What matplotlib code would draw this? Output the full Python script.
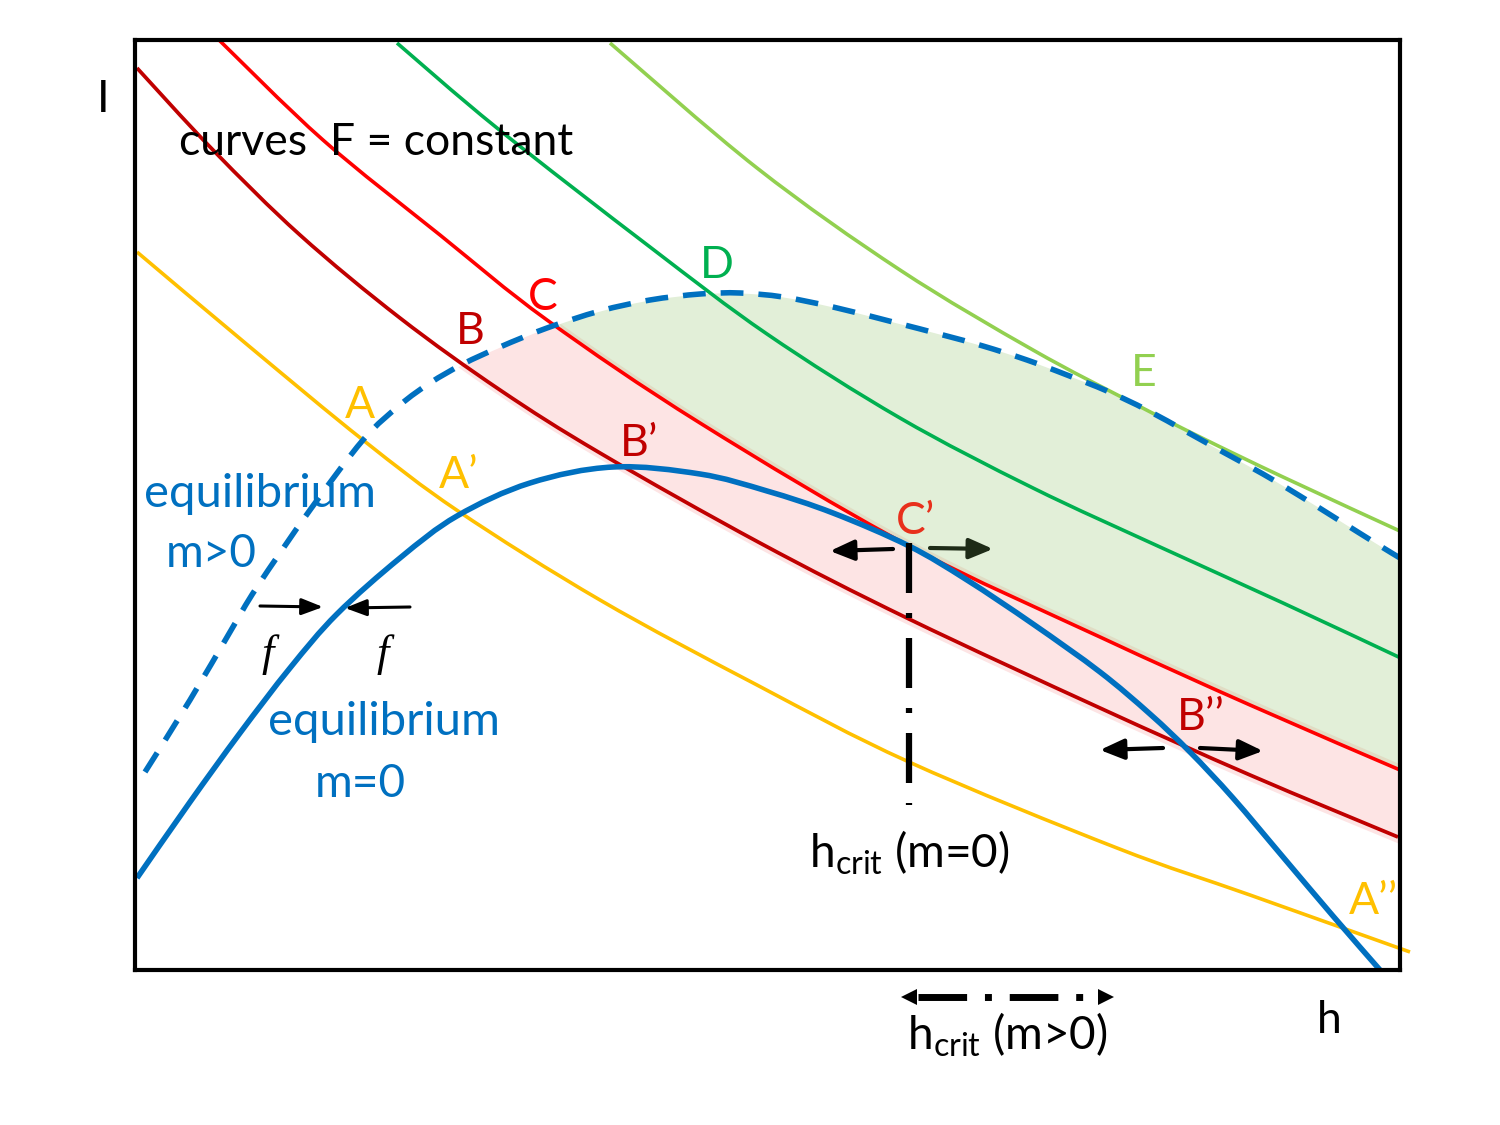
import numpy as np
import matplotlib
matplotlib.use('Agg')
import matplotlib.pyplot as plt
from matplotlib.path import Path
from matplotlib.patches import PathPatch

plt.rcParams['font.family'] = ['Lato', 'DejaVu Sans']
plt.rcParams['mathtext.fontset'] = 'custom'
plt.rcParams['mathtext.rm'] = 'Lato'
plt.rcParams['mathtext.it'] = 'Lato:italic'

# ---------------- data (h to the right, I downward scale) -------------
curve_A_h = [137, 250, 363, 458, 600, 757, 909, 1117, 1250, 1410]
curve_A_I = [252, 347, 440, 511, 600, 685, 762, 848, 895, 952]

curve_B_h = [137, 213, 300, 400, 500, 600, 760, 909, 1100, 1250, 1398]
curve_B_I = [68, 150, 235, 318, 390, 453, 543, 619, 708, 775, 837]

curve_C_h = [217, 323, 440, 547, 700, 909, 1100, 1250, 1400]
curve_C_I = [38, 140, 235, 320, 423, 546, 637, 705, 770]

curve_D_h = [397, 497, 650, 767, 900, 1033, 1160, 1283, 1405]
curve_D_I = [43, 128, 247, 334, 418, 488, 547, 603, 660]

curve_E_h = [610, 757, 900, 1033, 1133, 1200, 1283, 1402]
curve_E_I = [43, 168, 270, 350, 403, 437, 477, 532]

eq_m0_h = [137, 190, 240, 290, 337, 400, 457, 530, 613, 700, 767, 833, 909, 967,
           1033, 1100, 1150, 1190, 1233, 1283, 1333, 1380]
eq_m0_I = [878, 802, 733, 668, 614, 558, 516, 483, 467, 474, 491, 513, 546, 580,
           624, 672, 714, 752, 798, 857, 916, 970]

eq_mpos_h = [145, 190, 230, 257, 310, 363, 400, 430, 463, 500, 547, 600, 650, 700, 740, 783, 833,
             893, 943, 983, 1027, 1067, 1107, 1147, 1187, 1223, 1263, 1300, 1337, 1377, 1400]
eq_mpos_I = [772, 700, 632, 587, 510, 440, 405, 383, 364, 347, 328, 311, 300, 294, 293, 297, 307,
             322, 335, 346, 360, 375, 391, 410, 432, 452, 474, 496, 519, 544, 558]

h_crit_m0 = 909
h_crit_m0_span = [543, 805]
h_crit_mpos_range = [909, 1106]

# point labels
pt_labels = ['A', 'A\u2019', 'A\u2019\u2019', 'B', 'B\u2019', 'B\u2019\u2019', 'C', 'C\u2019', 'D', 'E']
pt_h = [360, 459, 1373, 470, 639, 1201, 543, 916, 717, 1144]
pt_I = [405, 476, 902, 331, 443, 718, 297, 521, 266, 373]
pt_colors = ['#FFC000', '#FFC000', '#FFC000', '#C00000', '#C00000', '#C00000',
             '#FF0000', '#E8301C', '#00B050', '#92D050']

# force arrows (tail -> tip)
arr_tail_h = [260, 410, 893, 930, 1163, 1200]
arr_tail_I = [606, 607, 549, 548, 748, 748]
arr_tip_h = [323, 345, 830, 993, 1100, 1263]
arr_tip_I = [607, 608, 551, 549, 750, 751]
arr_lw = [2.2, 2.2, 3.0, 3.0, 3.0, 3.0]
arr_col = ['black', 'black', 'black', '#1E2B17', 'black', 'black']


# ---------------- helpers ----------------
def _controls(xs, ys):
    P = np.column_stack([xs, ys]).astype(float)
    n = len(P)
    segs = []
    for i in range(n - 1):
        p0 = P[i - 1] if i > 0 else P[i]
        p1, p2 = P[i], P[i + 1]
        p3 = P[i + 2] if i + 2 < n else P[i + 1]
        segs.append((p1, p1 + (p2 - p0) / 6.0, p2 - (p3 - p1) / 6.0, p2))
    return segs


def smooth_path(xs, ys):
    segs = _controls(xs, ys)
    verts = [segs[0][0]]
    codes = [Path.MOVETO]
    for _, c1, c2, p2 in segs:
        verts += [c1, c2, p2]
        codes += [Path.CURVE4] * 3
    return Path(np.array(verts), codes)


def smooth_samples(xs, ys, k=24):
    out = []
    t = np.linspace(0, 1, k, endpoint=False)[:, None]
    for p1, c1, c2, p2 in _controls(xs, ys):
        out.append((1 - t) ** 3 * p1 + 3 * (1 - t) ** 2 * t * c1 + 3 * (1 - t) * t ** 2 * c2 + t ** 3 * p2)
    out.append(np.array([[xs[-1], ys[-1]]], float))
    a = np.vstack(out)
    return a[:, 0], a[:, 1]


def draw_curve(ax, xs, ys, **kw):
    clip = kw.pop('clip_on', True)
    p = PathPatch(smooth_path(xs, ys), fill=False, **kw)
    ax.add_patch(p)
    p.set_clip_on(clip)
    return p


# ---------------- figure ----------------
fig = plt.figure(figsize=(15, 11.25), dpi=100)
ax = fig.add_axes([135 / 1500, 1 - 970 / 1125, 1265 / 1500, 930 / 1125])
ax.set_xlim(135, 1400)
ax.set_ylim(970, 40)
ax.set_autoscale_on(False)
ax.set_xticks([])
ax.set_yticks([])
for s in ax.spines.values():
    s.set_linewidth(3)
    s.set_color('black')
    s.set_zorder(6)

# ---------------- fills ----------------
hh = np.linspace(440, 1400, 1500)
dx_, dy_ = smooth_samples(eq_mpos_h, eq_mpos_I)
rx_, ry_ = smooth_samples(curve_C_h, curve_C_I)
bx_, by_ = smooth_samples(curve_B_h, curve_B_I)
yd = np.interp(hh, dx_, dy_)
yr = np.interp(hh, rx_, ry_)
ydr = np.interp(hh, bx_, by_)
upper = np.maximum(yd, yr)
ax.fill_between(hh, upper, ydr + 6, where=(ydr + 6) > upper, interpolate=True,
                color='#FDE4E4', lw=0, zorder=1)
ax.fill_between(hh, yd, yr, where=yr > yd, interpolate=True,
                color='#E2EFD8', lw=0, zorder=1.2)
ax.fill_between(hh, np.maximum(yd, yr - 6), yr, where=yr - 6 > yd, interpolate=True,
                color='#E1DCC4', lw=0, zorder=1.3)

# ---------------- curves ----------------
draw_curve(ax, curve_A_h, curve_A_I, edgecolor='#FFC000', lw=2.6, zorder=3, clip_on=False)
draw_curve(ax, curve_B_h, curve_B_I, edgecolor='#C00000', lw=2.7, zorder=3)
draw_curve(ax, curve_C_h, curve_C_I, edgecolor='#FF0000', lw=2.6, zorder=3)
draw_curve(ax, curve_D_h, curve_D_I, edgecolor='#00B050', lw=2.6, zorder=3)
draw_curve(ax, curve_E_h, curve_E_I, edgecolor='#92D050', lw=2.6, zorder=3)
draw_curve(ax, eq_m0_h, eq_m0_I, edgecolor='#0070C0', lw=4, zorder=3.5)
draw_curve(ax, eq_mpos_h, eq_mpos_I, edgecolor='#0070C0', lw=4, ls=(0, (4.1, 2.7)), zorder=3.4)

# critical height line (dash-dot)
ax.plot([h_crit_m0, h_crit_m0], h_crit_m0_span, color='black', lw=4.5,
        ls=(0, (8, 3.2, 0.8, 3.2)), dash_capstyle='butt', zorder=4)

# h_crit (m>0) range arrow below the axis
ax.plot([918, 1097], [997, 997], color='black', lw=5, ls=(0, (7, 2.57, 1, 2.57)),
        dash_capstyle='butt', clip_on=False, zorder=4)
ax.plot([h_crit_mpos_range[0]], [997], marker='<', ms=12, color='black', mew=0, clip_on=False)
ax.plot([h_crit_mpos_range[1]], [997], marker='>', ms=12, color='black', mew=0, clip_on=False)

# force arrows
for th, ti, ph, pi, lw, c in zip(arr_tail_h, arr_tail_I, arr_tip_h, arr_tip_I, arr_lw, arr_col):
    hl = 1.3 if lw < 2.5 else 1.45
    hw = 0.5 if lw < 2.5 else 0.62
    ax.annotate('', xy=(ph, pi), xytext=(th, ti),
                arrowprops=dict(arrowstyle='-|>,head_length=%g,head_width=%g' % (hl, hw),
                                lw=lw, color=c, shrinkA=0, shrinkB=0, mutation_scale=10),
                zorder=5)

# ---------------- text ----------------
fs = 32
for t, x, y, c in zip(pt_labels, pt_h, pt_I, pt_colors):
    ax.text(x, y, t, color=c, fontsize=fs, ha='center', va='center', zorder=5)

ax.text(179, 155, 'curves  F = constant', fontsize=fs, ha='left', va='baseline', zorder=5)
ax.text(260, 507, 'equilibrium', color='#0070C0', fontsize=34, ha='center', va='baseline', zorder=5)
ax.text(211, 567, 'm>0', color='#0070C0', fontsize=33, ha='center', va='baseline', zorder=5)
ax.text(384, 735, 'equilibrium', color='#0070C0', fontsize=34, ha='center', va='baseline', zorder=5)
ax.text(360, 797, 'm=0', color='#0070C0', fontsize=33, ha='center', va='baseline', zorder=5)

ax.text(268, 655, 'f', family=['Liberation Serif'], style='italic', fontsize=32,
        ha='center', va='center', zorder=5)
ax.text(383, 655, 'f', family=['Liberation Serif'], style='italic', fontsize=32,
        ha='center', va='center', zorder=5)

ax.text(103, 100, 'I', fontsize=fs, ha='center', va='center')
ax.text(1329, 1033, 'h', fontsize=fs, ha='center', va='baseline')
ax.text(909, 868, r'$\mathrm{h_{crit}}$ (m=0)', fontsize=33, ha='center', va='baseline')
ax.text(1007, 1050, r'$\mathrm{h_{crit}}$ (m>0)', fontsize=33, ha='center', va='baseline')

fig.savefig('out.png', dpi=100)
